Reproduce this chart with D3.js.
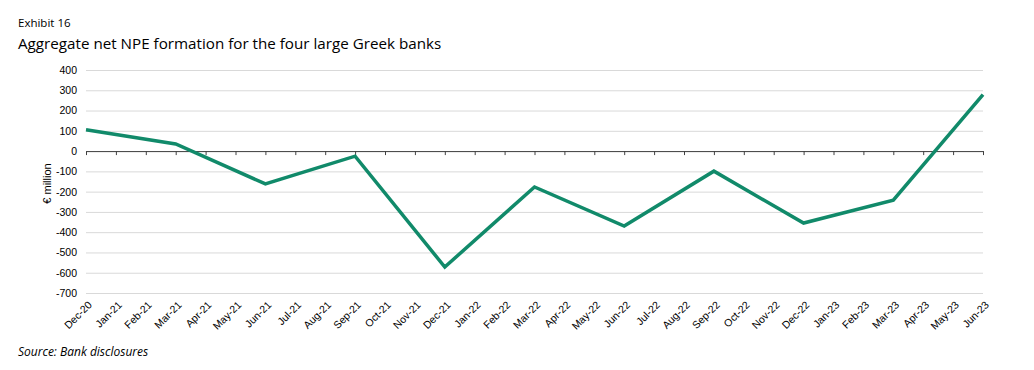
<!DOCTYPE html>
<html>
<head>
<meta charset="utf-8" />
<title>Exhibit 16</title>
<script src="https://cdn.jsdelivr.net/npm/d3@7"></script>
<style>
  body { margin: 0; background: #fff; }
  svg { display: block; }
</style>
</head>
<body>
<svg width="1034" height="370"></svg>
<script>
// monthly categories on the x axis
const months = ["Dec-20","Jan-21","Feb-21","Mar-21","Apr-21","May-21","Jun-21","Jul-21","Aug-21","Sep-21",
  "Oct-21","Nov-21","Dec-21","Jan-22","Feb-22","Mar-22","Apr-22","May-22","Jun-22","Jul-22","Aug-22",
  "Sep-22","Oct-22","Nov-22","Dec-22","Jan-23","Feb-23","Mar-23","Apr-23","May-23","Jun-23"];

// quarterly observations (EUR million)
const quarters = ["Dec-20","Mar-21","Jun-21","Sep-21","Dec-21","Mar-22","Jun-22","Sep-22","Dec-22","Mar-23","Jun-23"];
const npeFormation = [105, 35, -162, -25, -572, -177, -370, -99, -355, -242, 278];

const yTicks = [400, 300, 200, 100, 0, -100, -200, -300, -400, -500, -600, -700];

const svg = d3.select("svg");
const margin = {top: 70, left: 86, right: 51, bottom: 77};
const width = +svg.attr("width"), height = +svg.attr("height");
const innerW = width - margin.left - margin.right;
const innerH = height - margin.top - margin.bottom;

const x = d3.scalePoint().domain(months).range([0, innerW]);
const y = d3.scaleLinear().domain([-700, 400]).range([innerH, 0]);

// titles
svg.append("text").attr("x", 18).attr("y", 27)
  .style("font-family", "'Open Sans', sans-serif").style("font-size", "11.5px").attr("fill", "#000")
  .text("Exhibit 16");
svg.append("text").attr("x", 18).attr("y", 49)
  .style("font-family", "'Open Sans', sans-serif").style("font-size", "15.2px").attr("fill", "#000")
  .text("Aggregate net NPE formation for the four large Greek banks");
svg.append("text").attr("x", 18).attr("y", 356)
  .style("font-family", "'Open Sans', sans-serif").style("font-size", "12px").style("font-style", "italic")
  .attr("fill", "#000")
  .text("Source: Bank disclosures");

const g = svg.append("g").attr("transform", `translate(${margin.left},${margin.top})`);

// gridlines + y labels
const yAx = g.append("g").call(d3.axisLeft(y).tickValues(yTicks).tickSize(-innerW).tickPadding(9)
  .tickFormat(d => String(d)));
yAx.select(".domain").remove();
yAx.selectAll(".tick line").attr("stroke", "#d9d9d9").attr("stroke-width", 1);
yAx.selectAll(".tick text").style("font-family", "'Liberation Sans', Arial, sans-serif")
  .style("font-size", "10.5px").attr("fill", "#000");

// zero axis with ticks and rotated labels
const xAx = g.append("g").attr("transform", `translate(0,${y(0)})`)
  .call(d3.axisBottom(x).tickSize(4).tickSizeOuter(0));
xAx.select(".domain").attr("stroke", "#404040");
xAx.selectAll(".tick line").attr("stroke", "#404040");
xAx.selectAll(".tick text").remove();

g.append("g").selectAll("text").data(months).join("text")
  .attr("transform", d => `translate(${x(d) + 4},${innerH + 10}) rotate(-45)`)
  .attr("text-anchor", "end")
  .attr("dy", "0.35em")
  .style("font-family", "'Liberation Sans', Arial, sans-serif")
  .style("font-size", "10.5px").attr("fill", "#000")
  .text(d => d);

// y axis title
svg.append("text")
  .attr("transform", `translate(51,${margin.top + y(-160)}) rotate(-90)`)
  .attr("text-anchor", "middle")
  .style("font-family", "'Liberation Sans', Arial, sans-serif").style("font-size", "11px")
  .text("€ million");

// line
const pts = quarters.map((q, i) => ({m: q, v: npeFormation[i]}));
g.append("path").datum(pts)
  .attr("fill", "none").attr("stroke", "#118a6a").attr("stroke-width", 3.5)
  .attr("stroke-linejoin", "miter")
  .attr("d", d3.line().x(d => x(d.m)).y(d => y(d.v)));
</script>
</body>
</html>
